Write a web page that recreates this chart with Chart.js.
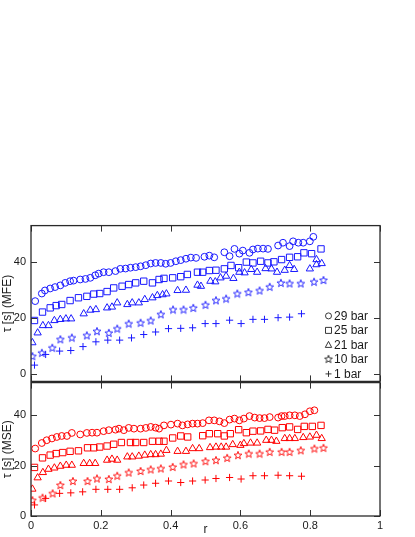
<!DOCTYPE html>
<html>
<head>
<meta charset="utf-8">
<script src="https://cdn.jsdelivr.net/npm/chart.js@4"></script>
<style>
  html, body { margin: 0; padding: 0; background: #fff; }
  #wrap { position: relative; width: 415px; height: 537px; overflow: hidden; }
  .box { position: absolute; left: 0; width: 415px; }
</style>
</head>
<body>
<div id="wrap">
  <div class="box" id="caixaMFE" style="top:0;height:388px"><canvas id="grafMFE" width="415" height="388"></canvas></div>
  <div class="box" id="caixaMSE" style="top:376px;height:161px"><canvas id="grafMSE" width="415" height="161"></canvas></div>
</div>
<script>
// Dados: r (eixo x) e tau [s] para cada pressão

const legendas = ['29 bar', '25 bar', '21 bar', '10 bar', '1 bar'];
const xTicks = [0, 0.2, 0.4, 0.6, 0.8, 1];
const yTicks = [0, 20, 40];

// painel superior (MFE)
const mfeR29 = [0.012, 0.031, 0.04, 0.055, 0.069, 0.084, 0.098, 0.112, 0.122, 0.141, 0.156, 0.17, 0.184, 0.194, 0.208, 0.223, 0.242, 0.256, 0.271, 0.285, 0.3, 0.314, 0.329, 0.343, 0.357, 0.372, 0.386, 0.4, 0.415, 0.429, 0.444, 0.458, 0.473, 0.497, 0.511, 0.525, 0.554, 0.569, 0.583, 0.597, 0.607, 0.626, 0.636, 0.65, 0.665, 0.679, 0.708, 0.722, 0.741, 0.751, 0.766, 0.78, 0.799, 0.809];
const mfeT29 = [26.1, 28.8, 29.9, 30.6, 31.1, 31.7, 32.6, 33.2, 33.4, 33.8, 34.0, 34.4, 35.3, 35.9, 36.4, 36.4, 36.8, 37.6, 37.7, 38.0, 38.2, 38.5, 38.9, 39.5, 39.7, 39.7, 39.4, 39.7, 40.3, 40.7, 41.2, 41.6, 41.5, 41.9, 42.3, 41.7, 43.5, 42.1, 44.7, 43.0, 44.1, 43.3, 44.5, 44.8, 44.8, 44.7, 45.9, 46.9, 45.7, 47.4, 46.9, 46.9, 47.4, 49.0];
const mfeR25 = [0.01, 0.033, 0.055, 0.072, 0.088, 0.112, 0.136, 0.16, 0.18, 0.197, 0.218, 0.237, 0.261, 0.28, 0.3, 0.323, 0.348, 0.367, 0.381, 0.406, 0.429, 0.448, 0.477, 0.492, 0.511, 0.53, 0.554, 0.573, 0.595, 0.617, 0.636, 0.658, 0.679, 0.696, 0.718, 0.741, 0.764, 0.782, 0.804, 0.831];
const mfeT25 = [19.2, 22.2, 23.7, 24.5, 24.9, 26.3, 27.3, 27.8, 28.6, 28.8, 29.5, 30.8, 31.4, 32.0, 32.6, 33.2, 32.6, 33.8, 34.2, 34.4, 34.8, 35.6, 36.4, 36.4, 37.0, 37.1, 37.6, 38.8, 38.0, 40.0, 39.7, 40.3, 39.7, 40.1, 40.9, 41.7, 41.9, 43.3, 43.0, 44.7];
const mfeR21 = [0.004, 0.019, 0.034, 0.05, 0.067, 0.084, 0.1, 0.115, 0.151, 0.17, 0.186, 0.218, 0.232, 0.247, 0.276, 0.29, 0.309, 0.326, 0.348, 0.362, 0.377, 0.388, 0.42, 0.444, 0.477, 0.487, 0.514, 0.528, 0.543, 0.559, 0.58, 0.597, 0.612, 0.631, 0.648, 0.672, 0.689, 0.705, 0.727, 0.741, 0.754, 0.799, 0.818, 0.818, 0.833];
const mfeT21 = [11.3, 14.8, 17.4, 17.4, 19.2, 19.6, 19.8, 19.8, 21.6, 22.9, 23.1, 23.7, 24.0, 25.5, 24.9, 25.5, 25.5, 26.7, 27.3, 28.1, 28.4, 28.7, 29.9, 30.0, 31.8, 31.4, 33.2, 33.0, 34.4, 35.0, 34.2, 36.4, 36.2, 37.4, 36.4, 37.7, 37.6, 36.4, 37.1, 38.8, 37.4, 37.6, 40.9, 39.1, 39.5];
const mfeR10 = [0.004, 0.031, 0.061, 0.084, 0.117, 0.16, 0.189, 0.223, 0.247, 0.28, 0.314, 0.343, 0.372, 0.407, 0.437, 0.465, 0.5, 0.53, 0.559, 0.591, 0.623, 0.655, 0.684, 0.716, 0.741, 0.773, 0.811, 0.838];
const mfeT10 = [6.5, 7.7, 9.5, 12.5, 13.1, 13.9, 15.4, 14.8, 16.3, 18.1, 18.4, 19.2, 21.4, 23.1, 23.1, 23.7, 24.8, 26.4, 27.0, 28.8, 29.3, 29.9, 31.2, 32.6, 32.4, 32.4, 33.0, 33.6];
const mfeR1 = [0.01, 0.042, 0.082, 0.114, 0.149, 0.186, 0.22, 0.254, 0.288, 0.323, 0.357, 0.394, 0.429, 0.463, 0.499, 0.53, 0.569, 0.602, 0.636, 0.669, 0.708, 0.741, 0.775];
const mfeT1 = [3.3, 7.1, 8.3, 8.5, 9.9, 11.6, 12.2, 12.2, 13.0, 14.2, 15.1, 16.3, 16.4, 16.6, 18.1, 18.1, 19.3, 18.1, 19.6, 19.6, 20.2, 20.4, 21.6];

// painel inferior (MSE)
const mseR29 = [0.012, 0.031, 0.045, 0.06, 0.074, 0.088, 0.103, 0.117, 0.141, 0.16, 0.175, 0.189, 0.208, 0.223, 0.242, 0.252, 0.266, 0.28, 0.295, 0.314, 0.329, 0.343, 0.357, 0.367, 0.381, 0.401, 0.42, 0.434, 0.449, 0.463, 0.477, 0.492, 0.51, 0.525, 0.54, 0.554, 0.569, 0.583, 0.597, 0.61, 0.626, 0.641, 0.655, 0.669, 0.684, 0.708, 0.718, 0.727, 0.741, 0.756, 0.77, 0.785, 0.799, 0.812];
const mseT29 = [26.8, 29.0, 30.1, 30.8, 31.4, 31.8, 31.8, 33.0, 32.4, 33.0, 33.1, 33.1, 33.7, 34.1, 34.3, 34.7, 34.1, 35.0, 34.7, 34.7, 35.0, 35.4, 35.1, 34.7, 36.0, 36.3, 36.7, 36.0, 36.4, 36.7, 36.7, 36.9, 38.0, 38.0, 37.6, 36.9, 38.3, 38.7, 38.0, 38.7, 39.7, 39.1, 38.9, 38.9, 39.3, 39.1, 39.7, 39.7, 40.0, 40.0, 39.7, 40.4, 41.6, 42.0];
const mseR25 = [0.01, 0.033, 0.055, 0.072, 0.091, 0.112, 0.136, 0.162, 0.18, 0.197, 0.218, 0.237, 0.259, 0.285, 0.3, 0.323, 0.348, 0.367, 0.381, 0.406, 0.429, 0.449, 0.492, 0.511, 0.535, 0.554, 0.571, 0.595, 0.617, 0.636, 0.658, 0.679, 0.698, 0.72, 0.741, 0.764, 0.783, 0.806, 0.831];
const mseT25 = [19.3, 23.1, 24.2, 24.8, 25.2, 25.7, 25.9, 27.1, 27.1, 27.4, 27.8, 28.5, 29.2, 29.2, 29.2, 29.2, 29.7, 29.7, 29.7, 31.0, 31.8, 31.4, 31.9, 32.7, 32.7, 31.8, 32.7, 34.3, 33.1, 33.7, 33.8, 34.4, 34.1, 35.1, 35.4, 34.4, 35.6, 35.6, 36.0];
const mseR21 = [0.004, 0.019, 0.034, 0.05, 0.067, 0.084, 0.101, 0.117, 0.151, 0.168, 0.184, 0.218, 0.232, 0.247, 0.276, 0.29, 0.309, 0.326, 0.343, 0.357, 0.372, 0.388, 0.42, 0.444, 0.463, 0.482, 0.513, 0.53, 0.545, 0.559, 0.578, 0.6, 0.61, 0.629, 0.648, 0.674, 0.689, 0.703, 0.727, 0.741, 0.756, 0.78, 0.799, 0.818, 0.833];
const mseT21 = [10.7, 15.2, 17.3, 18.6, 19.1, 19.8, 20.2, 20.2, 20.9, 20.9, 20.9, 22.2, 22.6, 22.2, 23.5, 23.5, 23.8, 24.2, 24.4, 24.4, 24.6, 26.1, 25.7, 25.7, 26.8, 26.8, 27.2, 27.4, 27.4, 27.4, 28.4, 28.1, 28.8, 29.0, 29.0, 30.1, 30.1, 29.7, 30.8, 30.8, 30.8, 31.2, 31.4, 32.1, 30.8];
const mseR10 = [0.004, 0.033, 0.062, 0.084, 0.12, 0.162, 0.189, 0.223, 0.247, 0.28, 0.314, 0.343, 0.372, 0.406, 0.437, 0.466, 0.5, 0.53, 0.562, 0.593, 0.624, 0.655, 0.684, 0.718, 0.741, 0.773, 0.812, 0.838];
const mseT10 = [6.3, 7.3, 9.0, 12.3, 13.9, 13.9, 14.9, 14.7, 16.0, 17.3, 17.9, 18.5, 18.9, 19.5, 20.5, 20.9, 21.8, 22.2, 23.1, 24.2, 24.8, 24.8, 25.5, 25.5, 25.5, 26.1, 26.8, 27.1];
const mseR1 = [0.01, 0.042, 0.082, 0.114, 0.148, 0.186, 0.22, 0.254, 0.29, 0.323, 0.357, 0.394, 0.429, 0.463, 0.499, 0.53, 0.569, 0.602, 0.636, 0.669, 0.708, 0.741, 0.775];
const mseT1 = [4.4, 7.0, 9.0, 9.2, 9.6, 10.6, 10.6, 10.6, 11.2, 12.3, 13.0, 13.9, 13.3, 13.9, 14.3, 14.9, 15.3, 14.7, 16.0, 16.0, 16.2, 16.0, 15.8];

const fonte = 'Liberation Sans, Arial, Helvetica, sans-serif';
const corTexto = '#1a1a1a';
const AZUL = 'rgb(25,25,255)';
const VERMELHO = 'rgb(255,0,0)';

// estrela de cinco pontas vazada (o 'star' do Chart.js é um asterisco)
function imagemEstrela(cor) {
  const c = document.createElement('canvas');
  c.width = 10; c.height = 10;
  const g = c.getContext('2d');
  g.strokeStyle = cor;
  g.lineWidth = 0.9;
  g.beginPath();
  for (let i = 0; i < 10; i++) {
    const raio = i % 2 ? 1.7 : 4.1;
    const a = -Math.PI / 2 + i * Math.PI / 5;
    const px = 5 + raio * Math.cos(a), py = 5.4 + raio * Math.sin(a);
    if (i === 0) g.moveTo(px, py); else g.lineTo(px, py);
  }
  g.closePath();
  g.stroke();
  return c;
}

function pontos(rs, ts) {
  return rs.map((r, i) => ({ x: r, y: ts[i] }));
}

function criarDatasets(series, cor) {
  const estilos = [
    { pointStyle: 'circle', pointRadius: 3.4 },
    { pointStyle: 'rect', pointRadius: 4.5 },
    { pointStyle: 'triangle', pointRadius: 4.2 },
    { pointStyle: imagemEstrela(cor), pointRadius: 4 },
    { pointStyle: 'cross', pointRadius: 3.6 }
  ];
  return series.map((s, i) => ({
    label: legendas[i],
    data: pontos(s[0], s[1]),
    showLine: false,
    borderColor: cor,
    backgroundColor: 'rgba(0,0,0,0)',
    pointBorderWidth: 1,
    pointHoverRadius: estilos[i].pointRadius,
    ...estilos[i]
  }));
}

// moldura e marcas de escala para dentro (estilo MATLAB)
const molduraPlugin = {
  id: 'moldura',
  afterDraw(chart) {
    const { ctx, chartArea: a, scales } = chart;
    const tam = 6;
    ctx.save();
    ctx.strokeStyle = '#333';
    ctx.lineWidth = 1;
    ctx.beginPath();
    xTicks.forEach(v => {
      const px = Math.round(scales.x.getPixelForValue(v)) + 0.5;
      ctx.moveTo(px, a.bottom); ctx.lineTo(px, a.bottom - tam);
      ctx.moveTo(px, a.top); ctx.lineTo(px, a.top + tam);
    });
    yTicks.forEach(v => {
      const py = Math.round(scales.y.getPixelForValue(v)) + 0.5;
      ctx.moveTo(a.left, py); ctx.lineTo(a.left + tam, py);
      ctx.moveTo(a.right, py); ctx.lineTo(a.right - tam, py);
    });
    ctx.stroke();
    ctx.lineWidth = 1.3;
    ctx.strokeStyle = '#2a2a2a';
    ctx.strokeRect(a.left, a.top, a.right - a.left, a.bottom - a.top);
    ctx.restore();
  }
};

// legenda dentro do painel superior, sem caixa
const legendaPlugin = {
  id: 'legendaDentro',
  afterDraw(chart) {
    const { ctx, chartArea: a } = chart;
    const xm = a.right - 51.5, xt = a.right - 46;
    ctx.save();
    ctx.strokeStyle = '#222';
    ctx.fillStyle = corTexto;
    ctx.lineWidth = 0.9;
    ctx.font = '12px ' + fonte;
    ctx.textBaseline = 'middle';
    const estrela = imagemEstrela('#222');
    legendas.forEach((txt, i) => {
      const y = a.bottom - 7.5 - (4 - i) * 14.5;
      ctx.beginPath();
      if (i === 0) {
        ctx.arc(xm, y, 3, 0, Math.PI * 2);
      } else if (i === 1) {
        ctx.rect(xm - 3, y - 3, 6, 6);
      } else if (i === 2) {
        ctx.moveTo(xm, y - 3.5); ctx.lineTo(xm + 3.2, y + 2.5); ctx.lineTo(xm - 3.2, y + 2.5); ctx.closePath();
      } else if (i === 4) {
        ctx.moveTo(xm - 3, y); ctx.lineTo(xm + 3, y);
        ctx.moveTo(xm, y - 3); ctx.lineTo(xm, y + 3);
      }
      ctx.stroke();
      if (i === 3) ctx.drawImage(estrela, xm - 5, y - 5.5);
      ctx.fillText(txt, xt, y + 0.5);
    });
    ctx.restore();
  }
};

function eixoY(titulo, min, max) {
  return {
    type: 'linear',
    min, max,
    afterBuildTicks: s => { s.ticks = yTicks.map(v => ({ value: v })); },
    afterFit: s => { s.width = 31; },
    grid: { display: false, drawTicks: false },
    border: { display: false },
    ticks: { font: { size: 11, family: fonte }, color: corTexto, padding: 5 },
    title: { display: true, text: titulo, font: { size: 12, family: fonte }, color: corTexto, padding: 0 }
  };
}

function eixoX(altura, comRotulos) {
  return {
    type: 'linear', min: 0, max: 1,
    afterBuildTicks: s => { s.ticks = xTicks.map(v => ({ value: v })); },
    afterFit: s => { s.height = altura; },
    grid: { display: false, drawTicks: false },
    border: { display: false },
    ticks: {
      display: comRotulos,
      font: { size: 11, family: fonte }, color: corTexto, padding: 3, maxRotation: 0,
      callback: v => String(v)
    },
    title: { display: comRotulos, text: 'r', font: { size: 12, family: fonte }, color: corTexto, padding: 0 }
  };
}

function configGrafico(datasets, opcoes) {
  return {
    type: 'scatter',
    data: { datasets },
    options: {
      responsive: false,
      maintainAspectRatio: false,
      animation: false,
      devicePixelRatio: 1,
      layout: { padding: { top: 0, left: 0, right: 35, bottom: 0 } },
      plugins: { legend: { display: false }, tooltip: { enabled: false } },
      scales: { x: opcoes.x, y: opcoes.y }
    },
    plugins: opcoes.plugins
  };
}

// desenha uma vez, mede as margens que o Chart.js reservou e reposiciona o canvas
// para a área do gráfico ficar entre 'topo' e 'base' na página
function criarPainel(caixaId, canvasId, topo, base, fazerConfig) {
  const caixa = document.getElementById(caixaId);
  const canvas = document.getElementById(canvasId);
  const provisorio = new Chart(canvas.getContext('2d'), fazerConfig());
  const a = provisorio.chartArea;
  const margemTopo = a.top;
  const margemBase = canvas.height - a.bottom;
  provisorio.destroy();
  const c = Math.round(topo - margemTopo);
  const h = Math.round(base - c + margemBase);
  caixa.style.top = c + 'px';
  caixa.style.height = h + 'px';
  canvas.width = 415;
  canvas.height = h;
  canvas.style.width = '415px';
  canvas.style.height = h + 'px';
  return new Chart(canvas.getContext('2d'), fazerConfig());
}

function criarGraficoMFE() {
  criarPainel('caixaMFE', 'grafMFE', 226, 381.5, () => configGrafico(
    criarDatasets([
      [mfeR29, mfeT29], [mfeR25, mfeT25], [mfeR21, mfeT21], [mfeR10, mfeT10], [mfeR1, mfeT1]
    ], AZUL),
    { x: eixoX(0, false), y: eixoY('τ [s] (MFE)', -2.5, 53), plugins: [molduraPlugin, legendaPlugin] }
  ));
}

function criarGraficoMSE() {
  criarPainel('caixaMSE', 'grafMSE', 383, 516, () => configGrafico(
    criarDatasets([
      [mseR29, mseT29], [mseR25, mseT25], [mseR21, mseT21], [mseR10, mseT10], [mseR1, mseT1]
    ], VERMELHO),
    { x: eixoX(21, true), y: eixoY('τ [s] (MSE)', 0, 53), plugins: [molduraPlugin] }
  ));
}

window.onload = () => {
  criarGraficoMFE();
  criarGraficoMSE();
};
</script>
</body>
</html>
